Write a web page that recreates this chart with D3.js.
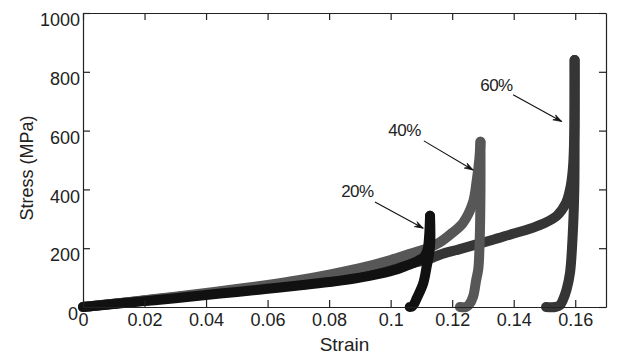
<!DOCTYPE html>
<html><head><meta charset="utf-8">
<script src="https://cdn.jsdelivr.net/npm/d3@7/dist/d3.min.js"></script>
<style>
html,body{margin:0;padding:0;background:#fff;}
svg{display:block;}
text{font-family:"Liberation Sans",Arial,sans-serif;fill:#222;}
</style></head><body>
<svg id="c" width="617" height="356"></svg>
<script>
// ---- data ----
const xTicks = [0, 0.02, 0.04, 0.06, 0.08, 0.1, 0.12, 0.14, 0.16];
const xTickLabels = ["0", "0.02", "0.04", "0.06", "0.08", "0.1", "0.12", "0.14", "0.16"];
const yTicks = [0, 200, 400, 600, 800, 1000];
const yTickLabels = ["0", "200", "400", "600", "800", "1000"];

const seriesNames = ["60%", "40%", "20%"];
// 60% prestrain: loading (up to peak) then unloading
const strain60 = [0, 0.01, 0.02, 0.03, 0.04, 0.05, 0.06, 0.07, 0.08, 0.09, 0.1, 0.106, 0.113, 0.116, 0.1225, 0.133, 0.14, 0.145, 0.1495, 0.154, 0.157, 0.1585, 0.1593, 0.1597, 0.1598,
                  0.1598, 0.1597, 0.1592, 0.1583, 0.1572, 0.156, 0.155, 0.1535, 0.1505];
const stress60 = [0, 11, 22, 33, 45, 56, 69, 82, 97, 114, 133, 147, 165, 178, 197, 228, 250, 265, 283, 310, 354, 410, 480, 600, 840,
                  600, 400, 250, 116, 60, 24, 6, 0, 0];
// 40%
const strain40 = [0, 0.01, 0.02, 0.03, 0.04, 0.05, 0.06, 0.07, 0.08, 0.09, 0.1, 0.106, 0.113, 0.116, 0.12, 0.1235, 0.1267, 0.128, 0.1288, 0.1292,
                  0.1292, 0.129, 0.1285, 0.1278, 0.1268, 0.1255, 0.1245, 0.1225];
const stress40 = [0, 11, 23, 35, 48, 61, 75, 91, 110, 132, 160, 180, 204, 220, 252, 286, 354, 432, 500, 562,
                  400, 250, 130, 92, 35, 8, 0, 0];
// 20%
const strain20 = [0, 0.01, 0.02, 0.03, 0.04, 0.05, 0.06, 0.07, 0.08, 0.09, 0.1, 0.105, 0.109, 0.111, 0.112, 0.1125, 0.1128,
                  0.1128, 0.1117, 0.1106, 0.1085, 0.1075, 0.1068, 0.1062];
const stress20 = [0, 10, 20, 30, 41, 51, 62, 73, 85, 100, 122, 140, 158, 172, 195, 240, 310,
                  205, 137, 81, 30, 8, 1, 0];

const annotLabels = ["20%", "40%", "60%"];
const annotTextStrain = [0.0892, 0.1045, 0.1344];
const annotTextStress = [393, 603, 756];
const arrowFromStrain = [0.0949, 0.1108, 0.1398];
const arrowFromStress = [357, 565, 722];
const arrowToStrain = [0.1106, 0.1268, 0.1556];
const arrowToStress = [268, 466, 631];

// ---- layout ----
const svg = d3.select("#c");
const L = 83, R = 606, T = 13, B = 307;
const x = d3.scaleLinear().domain([0, 0.17]).range([L, R]);
const y = d3.scaleLinear().domain([0, 1000]).range([B, T]);

const colors = {"60%": "#353535", "40%": "#575757", "20%": "#111111"};
const raw = {"60%": [strain60, stress60], "40%": [strain40, stress40], "20%": [strain20, stress20]};

const line = d3.line().x(d => x(d[0])).y(d => y(d[1])).curve(d3.curveCatmullRom.alpha(0.5));

const plot = svg.append("g");
seriesNames.forEach(n => {
  const [sx, sy] = raw[n];
  const pts = sx.map((s, i) => [s, sy[i]]);
  const peak = d3.maxIndex(sy);
  const parts = [pts.slice(0, peak + 1), pts.slice(peak)];
  parts.forEach(p => {
    plot.append("path")
      .attr("d", line(p))
      .attr("fill", "none")
      .attr("stroke", colors[n])
      .attr("stroke-width", 10)
      .attr("stroke-linecap", "round")
      .attr("stroke-linejoin", "round");
  });
});

// axes (ticks inside, box)
const tk = 7;
const fmtX = (d, i) => xTickLabels[i];
const fmtY = (d, i) => yTickLabels[i];
const axB = svg.append("g").attr("transform", `translate(0,${B})`)
  .call(d3.axisBottom(x).tickValues(xTicks).tickFormat(fmtX).tickSizeInner(-tk).tickSizeOuter(0).tickPadding(13));
const axT = svg.append("g").attr("transform", `translate(0,${T})`)
  .call(d3.axisTop(x).tickValues(xTicks).tickFormat("").tickSizeInner(-tk).tickSizeOuter(0));
const axL = svg.append("g").attr("transform", `translate(${L},0)`)
  .call(d3.axisLeft(y).tickValues(yTicks).tickFormat(fmtY).tickSizeInner(-tk).tickSizeOuter(0).tickPadding(3));
const axR = svg.append("g").attr("transform", `translate(${R},0)`)
  .call(d3.axisRight(y).tickValues(yTicks).tickFormat("").tickSizeInner(-tk).tickSizeOuter(0));
[axB, axT, axL, axR].forEach(g => {
  g.selectAll(".domain").attr("stroke", "#222").attr("stroke-width", 1.2);
  g.selectAll(".tick line").attr("stroke", "#222").attr("stroke-width", 1.2);
  g.selectAll("text").style("font-family", '"Liberation Sans",Arial,sans-serif').style("font-size", "18px").attr("fill", "#222");
});
axB.selectAll(".tick text").attr("dy", "0.71em").attr("y", 6);
axL.selectAll(".tick text").attr("dy", "0.32em").attr("y", 7);
axL.selectAll(".tick text").filter((d) => d === 0).attr("x", -5);

// axis titles
svg.append("text").attr("x", (L + R) / 2).attr("y", 351).attr("text-anchor", "middle")
  .style("font-size", "19px").text("Strain");
svg.append("text").attr("transform", `translate(33,${168}) rotate(-90)`).attr("text-anchor", "middle")
  .style("font-size", "18px").text("Stress (MPa)");

// annotations
const ag = svg.append("g");
annotLabels.forEach((lab, i) => {
  ag.append("text").attr("x", x(annotTextStrain[i])).attr("y", y(annotTextStress[i]))
    .attr("dy", "0.35em").attr("text-anchor", "middle").style("font-size", "17px")
    .style("letter-spacing", "-0.5px").text(lab);
  const x1 = x(arrowFromStrain[i]), y1 = y(arrowFromStress[i]);
  const x2 = x(arrowToStrain[i]), y2 = y(arrowToStress[i]);
  ag.append("line").attr("x1", x1).attr("y1", y1).attr("x2", x2).attr("y2", y2)
    .attr("stroke", "#111").attr("stroke-width", 1.1);
  const ang = Math.atan2(y2 - y1, x2 - x1);
  const hl = 9, ha = 0.32;
  const p = [
    [x2 - hl * Math.cos(ang - ha), y2 - hl * Math.sin(ang - ha)],
    [x2, y2],
    [x2 - hl * Math.cos(ang + ha), y2 - hl * Math.sin(ang + ha)],
    [x2 - 0.6 * hl * Math.cos(ang), y2 - 0.6 * hl * Math.sin(ang)]
  ];
  ag.append("path").attr("d", "M" + p.map(q => q.join(",")).join("L") + "Z")
    .attr("fill", "#111").attr("stroke", "#111").attr("stroke-width", 0.8);
});
</script>
</body></html>
